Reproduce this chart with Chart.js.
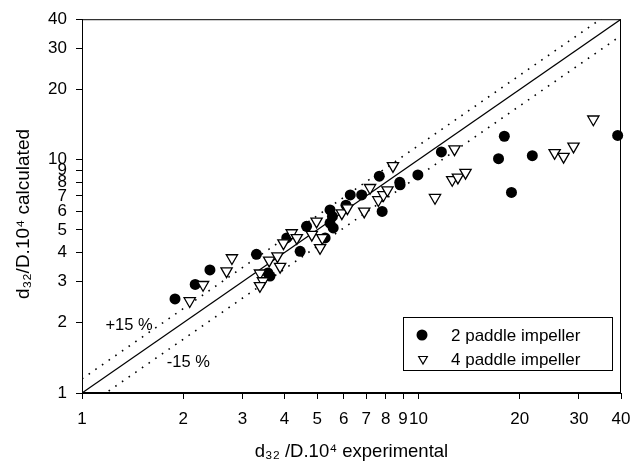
<!DOCTYPE html>
<html><head><meta charset="utf-8">
<script src="https://cdn.jsdelivr.net/npm/chart.js@4.4.1/dist/chart.umd.min.js"></script>
<style>html,body{margin:0;padding:0;background:#fff}canvas{display:block}</style>
</head><body>
<canvas id="c" width="630" height="464"></canvas>
<script>
const tickValues = [1, 2, 3, 4, 5, 6, 7, 8, 9, 10, 20, 30, 40];
const seriesNames = ['2 paddle impeller', '4 paddle impeller'];
const paddle2X = [1.89, 2.17, 2.40, 3.30, 3.57, 3.62, 4.06, 4.45, 4.65, 5.28, 5.46, 5.55, 5.46, 5.58, 6.09, 6.27, 6.78, 7.65, 7.80, 8.80, 8.82, 9.96, 11.7, 17.3, 18.0, 18.9, 21.8, 39.1];
const paddle2Y = [2.53, 2.92, 3.37, 3.93, 3.27, 3.17, 4.62, 4.05, 5.18, 4.62, 6.09, 5.71, 5.35, 5.10, 6.38, 7.06, 7.06, 8.50, 6.00, 8.00, 7.80, 8.60, 10.8, 10.1, 12.6, 7.24, 10.4, 12.7];
const paddle4X = [2.09, 2.29, 2.69, 2.79, 3.38, 3.45, 3.38, 3.60, 3.81, 3.88, 3.97, 4.20, 4.35, 4.82, 4.98, 5.18, 5.10, 5.92, 6.15, 6.90, 7.18, 7.60, 7.87, 8.09, 8.40, 11.2, 12.6, 13.1, 13.8, 12.8, 25.4, 27.0, 28.9, 33.1];
const paddle4Y = [2.48, 2.91, 3.33, 3.79, 3.26, 3.02, 2.88, 3.70, 3.86, 3.48, 4.39, 4.85, 4.62, 4.77, 5.44, 4.62, 4.19, 5.90, 6.20, 6.00, 7.58, 6.72, 7.06, 7.41, 9.40, 6.87, 8.20, 8.40, 8.80, 11.1, 10.7, 10.3, 11.4, 14.9];
const refLineX = [1, 40];
const parityY = [1, 40];
const plus15Y = [1.15, 46];
const minus15Y = [0.85, 34];
const bandLabels = ['+15 %', '-15 %'];
const bandLabelX = [1.38, 2.07];
const bandLabelY = [1.945, 1.354];
const xTitle = 'd\u2083\u2082 /D.10\u2074 experimental';
const yTitle = 'd\u2083\u2082/D.10\u2074 calculated   ';

const FONT = "'Liberation Sans', Arial, 'DejaVu Sans', sans-serif";
const pts = (xs, ys) => xs.map((x, i) => ({x, y: ys[i]}));

const framePlugin = {
  id: 'frame',
  afterDatasetsDraw(chart) {
    const {ctx, chartArea: a} = chart;
    ctx.save();
    ctx.strokeStyle = '#000'; ctx.lineWidth = 1;
    ctx.strokeRect(a.left + 0.5, a.top + 0.5, a.right - a.left - 1, a.bottom - a.top - 1);
    // band labels
    ctx.fillStyle = '#000';
    ctx.font = '16.5px ' + FONT;
    ctx.textAlign = 'center'; ctx.textBaseline = 'middle';
    const xs = chart.scales.x, ys = chart.scales.y;
    bandLabels.forEach((t, i) => {
      ctx.fillText(t, xs.getPixelForValue(bandLabelX[i]), ys.getPixelForValue(bandLabelY[i]));
    });
    // legend box
    const bw = 209, bh = 53;
    const bx = a.right - 9 - bw, by = a.bottom - 23 - bh;
    ctx.lineWidth = 1;
    ctx.strokeRect(bx + 0.5, by + 0.5, bw, bh);
    ctx.textAlign = 'left';
    ctx.font = '17px ' + FONT;
    const r1y = by + 18, r2y = by + 42;
    ctx.beginPath(); ctx.arc(bx + 19, r1y, 5.5, 0, Math.PI * 2); ctx.fill();
    ctx.beginPath();
    const tr = 5;
    ctx.moveTo(bx + 20 - tr * 0.866, r2y - tr * 0.5);
    ctx.lineTo(bx + 20 + tr * 0.866, r2y - tr * 0.5);
    ctx.lineTo(bx + 20, r2y + tr);
    ctx.closePath();
    ctx.lineWidth = 1.2; ctx.stroke();
    ctx.fillText(seriesNames[0], bx + 48, r1y + 1);
    ctx.fillText(seriesNames[1], bx + 48, r2y + 1);
    ctx.restore();
  }
};

const axisCommon = {
  type: 'logarithmic', min: 1, max: 40,
  afterBuildTicks(s) { s.ticks = tickValues.map(v => ({value: v})); },
  grid: {display: true, drawOnChartArea: false, drawTicks: true, tickLength: 6, color: '#000', lineWidth: 1},
  border: {display: true, color: '#000', width: 1},
};

new Chart(document.getElementById('c'), {
  type: 'scatter',
  data: {
    datasets: [
      {label: seriesNames[0], data: pts(paddle2X, paddle2Y), pointStyle: 'circle', pointRadius: 5.5, backgroundColor: '#000', borderColor: '#000', borderWidth: 0, order: 1, clip: 8},
      {label: seriesNames[1], data: pts(paddle4X, paddle4Y), pointStyle: 'triangle', rotation: 180, pointRadius: 6.5, backgroundColor: '#fff', borderColor: '#000', borderWidth: 1.3, order: 0, clip: 8},
      {label: 'parity', type: 'line', data: pts(refLineX, parityY), borderColor: '#000', borderWidth: 1.2, pointRadius: 0, fill: false, order: 2},
      {label: '+15 %', type: 'line', data: pts(refLineX, plus15Y), borderColor: '#000', borderWidth: 1.6, borderDash: [1.6, 6.5], pointRadius: 0, fill: false, order: 2},
      {label: '-15 %', type: 'line', data: pts(refLineX, minus15Y), borderColor: '#000', borderWidth: 1.6, borderDash: [1.6, 6.5], pointRadius: 0, fill: false, order: 2}
    ]
  },
  options: {
    responsive: false, animation: false, devicePixelRatio: 1,
    layout: {padding: {left: 0, top: 16, right: 0, bottom: 0}},
    plugins: {legend: {display: false}, tooltip: {enabled: false}},
    scales: {
      x: Object.assign({}, axisCommon, {
        position: 'bottom',
        ticks: {color: '#000', font: {size: 17, family: FONT}, padding: 10, maxRotation: 0, autoSkip: false, callback: v => String(v)},
        title: {display: true, text: xTitle, color: '#000', font: {size: 18.5, family: FONT}, padding: {top: 0, bottom: 1}},
        afterFit(s) { s.height = 71; s.paddingRight = 9; s.paddingLeft = 0; }
      }),
      y: Object.assign({}, axisCommon, {
        position: 'left',
        ticks: {color: '#000', font: {size: 17, family: FONT}, padding: 9, autoSkip: false, callback: v => String(v)},
        title: {display: true, text: yTitle, color: '#000', font: {size: 19, family: FONT}, padding: {top: 12, bottom: 0}},
        afterFit(s) { s.width = 82; }
      })
    }
  },
  plugins: [framePlugin]
});
</script>
</body></html>
